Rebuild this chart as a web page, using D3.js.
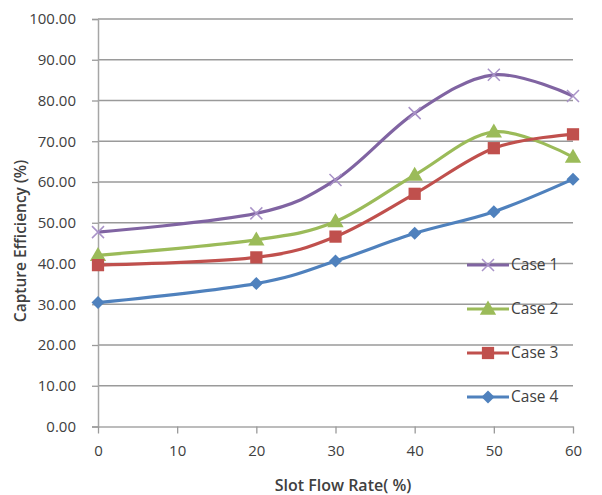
<!DOCTYPE html>
<html><head><meta charset="utf-8">
<script src="https://cdn.jsdelivr.net/npm/d3@7"></script>
<style>body{margin:0;background:#fff}svg{display:block}text{font-family:"Open Sans","Noto Sans",sans-serif}</style>
</head><body><svg id="c" width="602" height="495"></svg>
<script>
const xValues = [0, 20, 30, 40, 50, 60];
const xTicks = [0, 10, 20, 30, 40, 50, 60];
const yTicks = [0, 10, 20, 30, 40, 50, 60, 70, 80, 90, 100];
const seriesNames = ["Case 1", "Case 2", "Case 3", "Case 4"];
const case1 = [47.7, 52.3, 60.5, 76.9, 86.3, 81.1];
const case2 = [42.0, 45.8, 50.3, 61.7, 72.3, 66.1];
const case3 = [39.6, 41.5, 46.6, 57.1, 68.3, 71.7];
const case4 = [30.4, 35.1, 40.6, 47.4, 52.7, 60.7];
const colors = ["#8064A2", "#9BBB59", "#C0504D", "#4F81BD"];
const markers = ["x", "triangle", "square", "diamond"];
const xTitle = "Slot Flow Rate( %)";
const yTitle = "Capture Efficiency (%)";

const series = [case1, case2, case3, case4].map((v, i) => ({name: seriesNames[i], values: v, color: colors[i], marker: markers[i]}));

const svg = d3.select("#c");
const x = d3.scaleLinear().domain([0, 60]).range([98, 573]);
const y = d3.scaleLinear().domain([0, 100]).range([426.5, 19]);

// gridlines
svg.append("g").selectAll("line").data(yTicks.filter(d => d > 0)).join("line")
  .attr("x1", 98).attr("x2", 573).attr("y1", d => y(d)).attr("y2", d => y(d))
  .attr("stroke", "#9a9a9a").attr("stroke-width", 1.3);

// y axis
const yAxis = svg.append("g").attr("transform", "translate(98,0)")
  .call(d3.axisLeft(y).tickValues(yTicks).tickFormat(d3.format(".2f")).tickSize(6).tickPadding(16));
yAxis.select(".domain").attr("stroke", "#a6a6a6").attr("stroke-width", 1.5);
yAxis.selectAll(".tick line").attr("stroke", "#9a9a9a").attr("stroke-width", 1.3);
yAxis.selectAll("text").attr("font-size", 15).attr("fill", "#404040").attr("font-family", "'Open Sans','Noto Sans',sans-serif");

// x axis
const xAxis = svg.append("g").attr("transform", "translate(0,426.5)")
  .call(d3.axisBottom(x).tickValues(xTicks).tickFormat(d3.format("d")).tickSize(7).tickSizeOuter(0).tickPadding(12));
xAxis.select(".domain").attr("stroke", "#a6a6a6").attr("stroke-width", 1.5);
xAxis.selectAll(".tick line").attr("stroke", "#9a9a9a").attr("stroke-width", 1.3);
xAxis.selectAll("text").attr("font-size", 15).attr("fill", "#404040").attr("font-family", "'Open Sans','Noto Sans',sans-serif");

// titles
svg.append("text").attr("x", 343).attr("y", 491).attr("text-anchor", "middle")
  .attr("font-size", 16).attr("font-weight", 600).attr("fill", "#404040").text(xTitle);
svg.append("text").attr("transform", "translate(26,241) rotate(-90)").attr("text-anchor", "middle")
  .attr("font-size", 15.5).attr("font-weight", 600).attr("fill", "#404040").text(yTitle);

// lines
const line = d3.line().x((d, i) => x(xValues[i])).y(d => y(d)).curve(d3.curveCatmullRom.alpha(0));
function drawMarker(g, type, color, cx, cy) {
  if (type === "x") {
    const s = 6;
    g.append("path").attr("d", `M${cx-s},${cy-s}L${cx+s},${cy+s}M${cx-s},${cy+s}L${cx+s},${cy-s}`)
      .attr("stroke", "#a993c8").attr("stroke-width", 1.5).attr("fill", "none");
  } else if (type === "diamond") {
    const s = 6.5;
    g.append("path").attr("d", `M${cx},${cy-s}L${cx+s},${cy}L${cx},${cy+s}L${cx-s},${cy}Z`).attr("fill", color);
  } else {
    const sym = {triangle: d3.symbolTriangle, square: d3.symbolSquare}[type];
    const size = {triangle: 115, square: 150}[type];
    g.append("path").attr("d", d3.symbol().type(sym).size(size)())
      .attr("transform", `translate(${cx},${cy + (type === "triangle" ? 1 : 0)})`).attr("fill", color);
  }
}
series.forEach(s => {
  const g = svg.append("g");
  g.append("path").datum(s.values).attr("d", line).attr("fill", "none")
    .attr("stroke", s.color).attr("stroke-width", 3.2);
  s.values.forEach((v, i) => drawMarker(g, s.marker, s.color, x(xValues[i]), y(v)));
});

// legend
const legY = [265, 309, 353, 397];
series.forEach((s, i) => {
  const g = svg.append("g");
  g.append("line").attr("x1", 467).attr("x2", 509).attr("y1", legY[i]).attr("y2", legY[i])
    .attr("stroke", s.color).attr("stroke-width", 3.2);
  drawMarker(g, s.marker, s.color, 488, legY[i]);
  g.append("text").attr("x", 511).attr("y", legY[i] + 5).attr("font-size", 15.5)
    .attr("fill", "#404040").text(s.name);
});
</script></body></html>
